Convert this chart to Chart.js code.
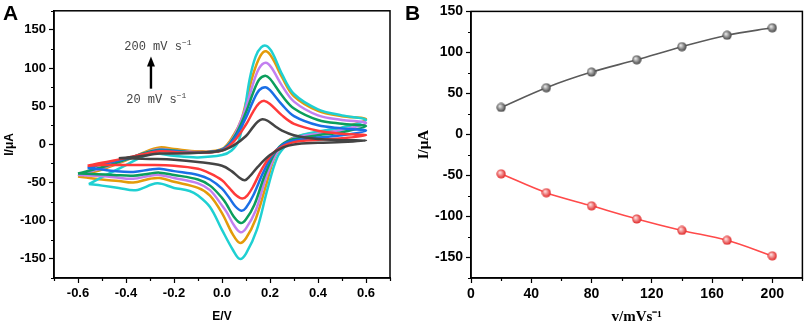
<!DOCTYPE html>
<html>
<head>
<meta charset="utf-8">
<script src="https://cdn.jsdelivr.net/npm/chart.js@4.4.0/dist/chart.umd.min.js"></script>
<style>
  html, body { margin: 0; padding: 0; background: #fff; }
  #wrap { position: relative; width: 809px; height: 327px; }
  canvas { position: absolute; top: 0; }
  #cv { left: 0; }
  #rate { left: 400px; }
</style>
</head>
<body>
<div id="wrap">
  <canvas id="cv" width="400" height="327"></canvas>
  <canvas id="rate" width="409" height="327"></canvas>
</div>
<script>
// Panel A: CV loops as [E (V), I (uA)], forward scan out to 0.6 V, then back
const cv20 = [[-0.43,-18],[-0.35,-16],[-0.26,-12],[-0.2,-12],[-0.1,-11],[0,-8],[0.05,-1],[0.1,11],[0.13,23],[0.15,30],[0.168,33],[0.19,31],[0.22,24],[0.25,18],[0.3,12],[0.4,7],[0.5,5.5],[0.6,5],
  [0.5,3],[0.4,2],[0.3,0],[0.255,-4],[0.2,-14],[0.15,-29],[0.115,-42],[0.095,-47],[0.07,-43],[0.04,-35],[0,-28],[-0.1,-23],[-0.2,-20],[-0.3,-19],[-0.43,-18]];
const cv50 = [[-0.56,-28],[-0.5,-24],[-0.4,-18],[-0.33,-13],[-0.26,-9],[-0.2,-10],[-0.1,-11],[0,-8],[0.05,4],[0.1,26],[0.13,43],[0.155,54],[0.177,57],[0.2,53],[0.25,38],[0.3,27],[0.4,18],[0.5,14],[0.6,12],
  [0.5,8],[0.4,6],[0.3,3],[0.25,-3],[0.205,-14],[0.165,-33],[0.13,-55],[0.105,-67],[0.085,-71],[0.06,-67],[0.03,-57],[0,-47],[-0.05,-38],[-0.1,-32],[-0.2,-28],[-0.3,-27],[-0.4,-27],[-0.5,-27],[-0.56,-28]];
const cv80 = [[-0.56,-31],[-0.5,-26],[-0.4,-19],[-0.33,-13],[-0.26,-8],[-0.2,-9],[-0.1,-11],[0,-7],[0.05,7],[0.1,35],[0.13,57],[0.155,71],[0.18,75],[0.2,71],[0.25,52],[0.3,37],[0.4,25],[0.5,21],[0.6,18],
  [0.5,12],[0.4,9],[0.3,5],[0.25,-1],[0.21,-14],[0.17,-38],[0.13,-67],[0.1,-83],[0.081,-87],[0.055,-81],[0.03,-70],[0,-58],[-0.05,-46],[-0.1,-40],[-0.2,-35],[-0.26,-32],[-0.3,-33],[-0.37,-36],[-0.45,-35],[-0.5,-33],[-0.56,-31]];
const cv110 = [[-0.6,-38],[-0.5,-30],[-0.4,-20],[-0.33,-12],[-0.26,-7],[-0.2,-8],[-0.1,-11],[0,-7],[0.05,9],[0.1,42],[0.13,68],[0.155,85],[0.18,90],[0.2,86],[0.25,64],[0.3,47],[0.4,32],[0.5,27],[0.6,24],
  [0.5,16],[0.4,12],[0.3,7],[0.25,0],[0.215,-14],[0.175,-43],[0.135,-79],[0.1,-98],[0.078,-103],[0.05,-95],[0.02,-79],[0,-70],[-0.05,-54],[-0.1,-46],[-0.2,-40],[-0.26,-37],[-0.3,-38],[-0.37,-41],[-0.45,-40],[-0.52,-39],[-0.6,-38]];
const cv140 = [[-0.6,-40],[-0.5,-31],[-0.4,-20],[-0.33,-12],[-0.26,-6],[-0.2,-8],[-0.1,-10],[0,-7],[0.05,11],[0.1,49],[0.13,80],[0.155,100],[0.182,107],[0.205,101],[0.25,77],[0.3,56],[0.4,38],[0.5,32],[0.6,28],
  [0.5,19],[0.4,14],[0.3,8],[0.255,0],[0.22,-15],[0.18,-47],[0.14,-87],[0.1,-110],[0.077,-115],[0.05,-106],[0.02,-89],[0,-80],[-0.05,-60],[-0.1,-51],[-0.2,-44],[-0.26,-40],[-0.3,-41],[-0.37,-45],[-0.45,-43],[-0.52,-41],[-0.6,-40]];
const cv170 = [[-0.6,-42],[-0.5,-33],[-0.4,-21],[-0.33,-11],[-0.26,-4],[-0.2,-6],[-0.1,-9],[0,-6],[0.05,13],[0.08,32],[0.1,55],[0.13,92],[0.16,116],[0.184,122],[0.21,113],[0.25,88],[0.3,63],[0.4,44],[0.5,37],[0.6,33],
  [0.5,22],[0.4,16],[0.3,9],[0.26,0],[0.22,-16],[0.185,-52],[0.14,-98],[0.1,-123],[0.074,-129],[0.045,-118],[0,-90],[-0.05,-67],[-0.1,-57],[-0.2,-49],[-0.26,-44],[-0.3,-45],[-0.37,-50],[-0.43,-48],[-0.5,-46],[-0.6,-42]];
const cv200 = [[-0.555,-52],[-0.5,-43],[-0.4,-27],[-0.33,-16],[-0.28,-12],[-0.2,-15],[-0.1,-17],[0,-14],[0.04,-8],[0.07,5],[0.09,35],[0.115,85],[0.14,115],[0.163,127],[0.185,129],[0.21,120],[0.25,92],[0.3,66],[0.4,46],[0.5,38],[0.6,32],
  [0.5,22],[0.4,17],[0.3,9],[0.27,0],[0.23,-17],[0.19,-58],[0.145,-112],[0.1,-143],[0.074,-150],[0.045,-138],[0,-112],[-0.05,-82],[-0.1,-67],[-0.135,-61],[-0.2,-57],[-0.27,-51],[-0.36,-60],[-0.43,-57],[-0.5,-54],[-0.555,-52]];

const cvCurves = [cv20, cv50, cv80, cv110, cv140, cv200, cv170];
const cvColors = ['#444444', '#ff3a3a', '#1a6fe6', '#0b9e5c', '#c27ff0', '#1fd0d2', '#e39b0a'];

// annotation: scan-rate arrow and labels, in data units
const arrowE = -0.296, arrowFrom = 73, arrowTo = 115;
const topLabel = ['200 mV s', -0.407, 124];
const lowLabel = ['20 mV s', -0.399, 54];

// Panel B: peak currents vs scan rate
const rates = [20, 50, 80, 110, 140, 170, 200];
const anodic = [33, 57, 76, 91, 107, 121, 130];
const cathodic = [-48, -71, -87, -103, -117, -129, -148];

const sans = "'Liberation Sans', Arial, sans-serif";
const serif = "'Liberation Serif', 'Times New Roman', serif";

function isMinor(c) {
  return c.tick && c.tick.label === '';
}

// plot frame + short minor ticks
const framePlugin = {
  id: 'frame',
  afterDraw(chart) {
    const { ctx, chartArea: a, scales } = chart;
    ctx.save();
    ctx.strokeStyle = '#000';
    ctx.lineWidth = 1.5;
    ctx.strokeRect(a.left, a.top, a.right - a.left, a.bottom - a.top);
    ctx.lineWidth = 1.2;
    ctx.beginPath();
    scales.x.ticks.forEach((t, i) => {
      if (t.label !== '') return;
      const px = Math.round(scales.x.getPixelForTick(i)) + 0.5;
      ctx.moveTo(px, a.bottom);
      ctx.lineTo(px, a.bottom + 3);
    });
    scales.y.ticks.forEach((t, i) => {
      if (t.label !== '') return;
      const py = Math.round(scales.y.getPixelForTick(i)) + 0.5;
      ctx.moveTo(a.left, py);
      ctx.lineTo(a.left - 3, py);
    });
    ctx.stroke();
    ctx.restore();
  }
};

function panelLetter(letter, x, y) {
  return {
    id: 'letter' + letter,
    afterDraw(chart) {
      const ctx = chart.ctx;
      ctx.save();
      ctx.font = "bold 21px " + sans;
      ctx.fillStyle = '#000';
      ctx.textBaseline = 'alphabetic';
      ctx.fillText(letter, x, y);
      ctx.restore();
    }
  };
}

const arrowPlugin = {
  id: 'rateArrow',
  afterDatasetsDraw(chart) {
    const { ctx, scales: { x, y } } = chart;
    const ax = x.getPixelForValue(arrowE);
    const y0 = y.getPixelForValue(arrowFrom);
    const y1 = y.getPixelForValue(arrowTo);
    ctx.save();
    ctx.strokeStyle = '#000';
    ctx.fillStyle = '#000';
    ctx.lineWidth = 2.4;
    ctx.beginPath();
    ctx.moveTo(ax, y0);
    ctx.lineTo(ax, y1 + 8);
    ctx.stroke();
    ctx.beginPath();
    ctx.moveTo(ax, y1);
    ctx.lineTo(ax - 4, y1 + 10);
    ctx.lineTo(ax + 4, y1 + 10);
    ctx.closePath();
    ctx.fill();
    ctx.fillStyle = '#444';
    [topLabel, lowLabel].forEach(([txt, e, i]) => {
      const px = x.getPixelForValue(e);
      const py = y.getPixelForValue(i);
      ctx.font = "12px 'Liberation Mono', 'Courier New', monospace";
      ctx.fillText(txt, px, py);
      const w = ctx.measureText(txt).width;
      ctx.font = "8px 'Liberation Mono', 'Courier New', monospace";
      ctx.fillText('\u22121', px + w, py - 5);
    });
    ctx.restore();
  }
};

function axisBase(min, max, step, fontSize) {
  return {
    type: 'linear',
    min: min,
    max: max,
    border: { display: true, color: '#000', width: 1.5 },
    grid: {
      display: true,
      drawOnChartArea: false,
      drawTicks: true,
      tickLength: 5,
      tickWidth: 1.2,
      tickColor: c => isMinor(c) ? 'rgba(0,0,0,0)' : '#000'
    },
    ticks: {
      stepSize: step,
      autoSkip: false,
      maxRotation: 0,
      padding: 3,
      color: '#000',
      font: { family: sans, weight: 'bold', size: fontSize }
    }
  };
}

function showCV() {
  const ctx = document.getElementById('cv').getContext('2d');
  const xs = axisBase(-0.7, 0.7, 0.1, 13);
  xs.ticks.callback = v => {
    const k = Math.round(v * 10);
    return (k % 2 === 0 && Math.abs(k) <= 6) ? (k / 10).toFixed(1) : '';
  };
  xs.title = { display: true, text: 'E/V', color: '#000', font: { family: sans, weight: 'bold', size: 12 }, padding: { top: 0, bottom: 3 } };
  xs.afterFit = s => { s.height = 49; };
  const ys = axisBase(-175, 175, 25, 13);
  ys.ticks.callback = v => (Math.round(v) % 50 === 0 ? String(Math.round(v)) : '');
  ys.title = { display: true, text: 'I/\u03bcA', color: '#000', font: { family: sans, weight: 'bold', size: 12 }, padding: { top: 2, bottom: 0 } };
  ys.afterFit = s => { s.width = 54; };

  new Chart(ctx, {
    type: 'scatter',
    data: {
      datasets: cvCurves.map((curve, i) => ({
        data: curve.map(p => ({ x: p[0], y: p[1] })),
        showLine: true,
        borderColor: cvColors[i],
        borderWidth: 2.5,
        pointRadius: 0,
        tension: 0.35,
        fill: false
      }))
    },
    options: {
      responsive: false,
      devicePixelRatio: 1,
      animation: false,
      layout: { padding: { left: 0, top: 9, right: 10, bottom: 0 } },
      plugins: { legend: { display: false }, tooltip: { enabled: false } },
      scales: { x: xs, y: ys }
    },
    plugins: [framePlugin, arrowPlugin, panelLetter('A', 3, 20)]
  });
}

function ball(light, dark) {
  const c = document.createElement('canvas');
  c.width = 10; c.height = 10;
  const g = c.getContext('2d');
  const grd = g.createRadialGradient(3.6, 3.6, 0.4, 5, 5, 5);
  grd.addColorStop(0, light);
  grd.addColorStop(1, dark);
  g.fillStyle = grd;
  g.beginPath();
  g.arc(5, 5, 4.6, 0, Math.PI * 2);
  g.fill();
  return c;
}

function showRates() {
  const ctx = document.getElementById('rate').getContext('2d');
  const xs = axisBase(0, 220, 20, 14);
  xs.ticks.callback = v => (Math.round(v) % 40 === 0 ? String(Math.round(v)) : '');
  xs.title = { display: true, text: 'v/mVs\u207b\u00b9', color: '#000', font: { family: serif, weight: 'bold', size: 15 }, padding: { top: 0, bottom: 1 } };
  xs.afterFit = s => { s.height = 49; };
  const ys = axisBase(-175, 150, 25, 14);
  ys.ticks.callback = v => (Math.round(v) % 50 === 0 ? String(Math.round(v)) : '');
  ys.title = { display: true, text: 'I/\u03bcA', color: '#000', font: { family: serif, weight: 'bold', size: 15 }, padding: { top: 2, bottom: 0 } };
  ys.afterFit = s => { s.width = 58; };

  new Chart(ctx, {
    type: 'line',
    data: {
      datasets: [
        {
          data: rates.map((r, i) => ({ x: r, y: anodic[i] })),
          borderColor: '#5a5a5a',
          borderWidth: 1.6,
          pointStyle: ball('#e8e8e8', '#333333'),
          pointRadius: 5,
          cubicInterpolationMode: 'monotone'
        },
        {
          data: rates.map((r, i) => ({ x: r, y: cathodic[i] })),
          borderColor: '#ff4a4a',
          borderWidth: 1.6,
          pointStyle: ball('#ffe0e0', '#dd1414'),
          pointRadius: 5,
          cubicInterpolationMode: 'monotone'
        }
      ]
    },
    options: {
      responsive: false,
      devicePixelRatio: 1,
      animation: false,
      layout: { padding: { left: 13, top: 7, right: 3, bottom: 0 } },
      plugins: { legend: { display: false }, tooltip: { enabled: false } },
      scales: { x: xs, y: ys }
    },
    plugins: [framePlugin, panelLetter('B', 5, 20)]
  });
}

showCV();
showRates();
</script>
</body>
</html>
